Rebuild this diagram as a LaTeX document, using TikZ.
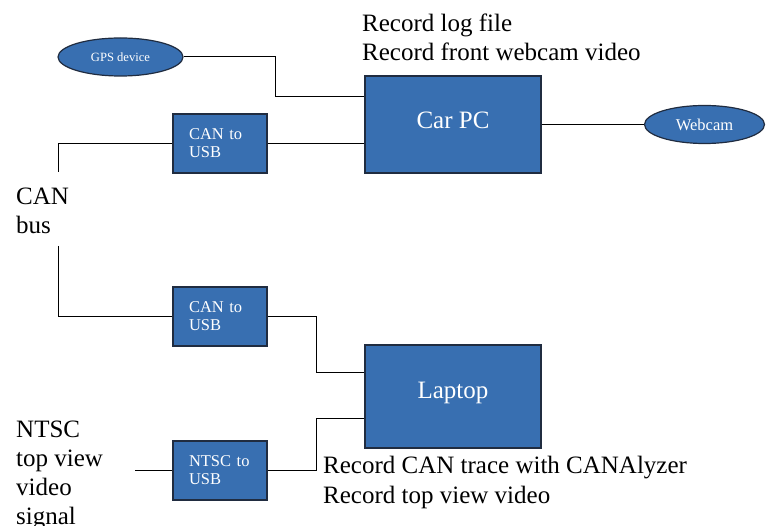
\documentclass[tikz,border=0pt]{standalone}
\usepackage{fontspec}
\setmainfont{Liberation Serif}
\usetikzlibrary{shapes.geometric,positioning,calc}
\definecolor{BoxBlue}{RGB}{56,111,177}
\definecolor{EdgeNavy}{RGB}{32,44,64}

\tikzset{
  unit/.style={draw=EdgeNavy,line width=1.2pt,fill=BoxBlue,text=white,inner sep=0pt},
  pcbox/.style={unit,rectangle,minimum width=176pt,font=\fontsize{25}{29}\selectfont},
  usbbox/.style={unit,rectangle,minimum width=94pt,minimum height=59pt,align=left,
    text width=62pt,font=\fontsize{16.5}{18}\selectfont},
  dev/.style={unit,ellipse},
  note/.style={align=left,inner sep=0pt,font=\fontsize{25}{29}\selectfont},
  wire/.style={line width=1pt,black}
}

\begin{document}
\begin{tikzpicture}[x=1pt,y=-1pt]
  \useasboundingbox (0,0) rectangle (766,526);
  % devices
  \node[dev,minimum width=125pt,minimum height=38pt,font=\fontsize{12.6}{14}\selectfont] (gps) at (120.5,57) {GPS device};
  \node[pcbox,minimum height=97pt] (carpc) at (453,124.5) {\raisebox{9pt}{Car PC}};
  \node[dev,minimum width=120pt,minimum height=38pt,font=\fontsize{16.5}{18}\selectfont] (webcam) at (704.5,124.5) {Webcam};
  \node[usbbox] (canA) at (220,143.5) {CAN to\\USB};
  \node[usbbox] (canB) at (220,316.5) {CAN to\\USB};
  \node[usbbox] (ntsc) at (220,470.5) {NTSC to\\USB};
  \node[pcbox,minimum height=103pt] (laptop) at (453,396.5) {\raisebox{12pt}{Laptop}};
  % free ends
  \coordinate (busTop) at (58,172);
  \coordinate (busBot) at (58,246);
  \coordinate (ntscIn) at (135,470.5);
  % texts (base = last line)
  \node[note,anchor=base west] (pcnote) at (362,61) {Record log file\\Record front webcam video};
  \node[note,anchor=base west] (busnote) at (16,234) {CAN\\bus};
  \node[note,anchor=base west] (ntscnote) at (16,524) {NTSC\\top view\\video\\signal};
  \node[note,anchor=base west] (lapnote) at (323,503) {Record CAN trace with CANAlyzer\\Record top view video};
  % wiring
  \draw[wire] (gps.east) -- ++(92,0) |- ([yshift=27.5pt]carpc.west);
  \draw[wire] (canA.east) -- (carpc.west |- canA.east);
  \draw[wire] (canA.west) -| (busTop);
  \draw[wire] (busBot) |- (canB.west);
  \draw[wire] (canB.east) -- ++(49,0) |- ([yshift=23.5pt]laptop.west);
  \draw[wire] (ntsc.east) -- ++(49,0) |- ([yshift=-22.5pt]laptop.west);
  \draw[wire] (ntscIn) -- (ntsc.west);
  \draw[wire] (carpc.east) -- (webcam.west);
\end{tikzpicture}
\end{document}
